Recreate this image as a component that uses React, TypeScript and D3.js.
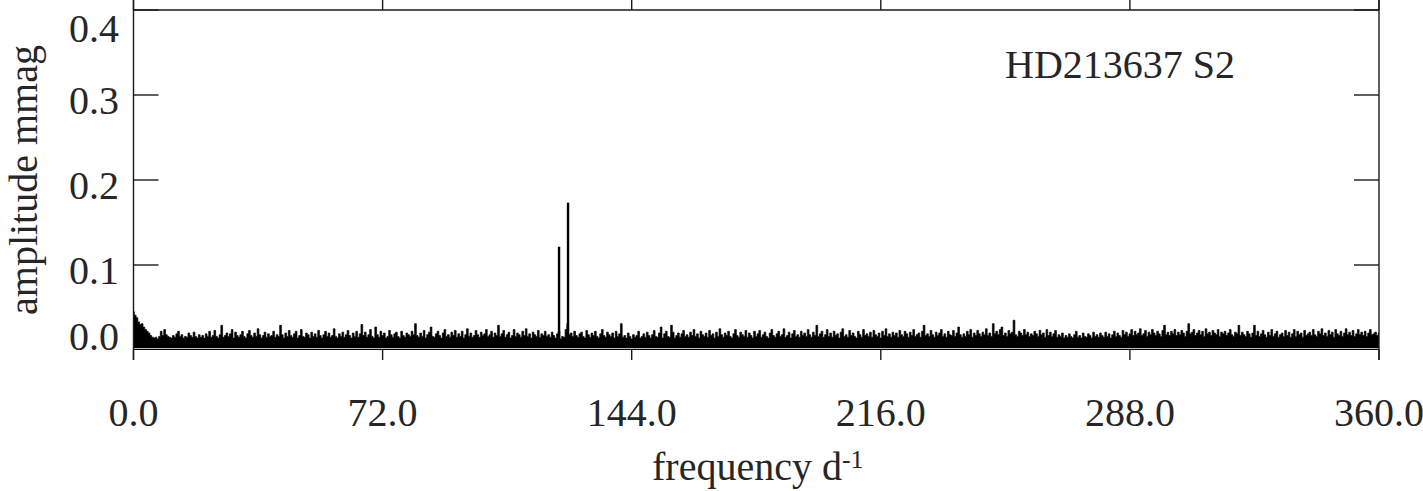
import React from "react";
import * as d3 from "d3";

// ---- data ----
const xTicks = [0, 72, 144, 216, 288, 360];
const xTickLabels = ["0.0", "72.0", "144.0", "216.0", "288.0", "360.0"];
const yTicks = [0, 0.1, 0.2, 0.3, 0.4];
const yTickLabels = ["0.0", "0.1", "0.2", "0.3", "0.4"];
const starLabel = "HD213637 S2";

// noise envelope of the amplitude spectrum, in micro-mag, 0 .. 360 d^-1 (0.5 d^-1 step)
const noiseMicroMag = [
  45,41,38,33,30,31,27,24,22,20,17,15,14,15,13,16,22,17,24,18,16,15,14,17,15,19,22,16,18,14,16,15,20,17,15,21,16,14,18,15,
  17,14,19,16,22,15,17,23,16,14,18,29,15,17,20,16,19,24,14,21,17,15,18,22,16,14,19,23,17,15,20,16,25,18,14,17,21,15,19,16,
  17,22,15,18,16,29,18,14,20,16,23,17,15,19,22,14,17,24,16,15,20,18,14,21,16,19,15,23,17,14,18,22,16,20,15,17,25,16,14,19,
  16,21,15,18,23,17,14,20,16,22,15,19,30,17,21,15,18,24,16,14,27,18,15,22,17,20,14,16,23,18,15,19,21,16,14,22,17,15,20,18,
  16,22,18,31,17,15,20,16,23,14,18,21,27,16,15,19,22,17,14,20,24,16,18,15,21,17,23,15,19,16,22,14,18,25,16,20,15,17,23,18,
  15,21,17,19,24,16,18,22,15,20,17,29,16,19,23,15,18,21,14,17,24,16,20,18,15,22,17,25,16,19,14,21,18,16,23,15,19,17,22,16,
  18,15,21,17,14,19,22,13,16,15,24,31,18,20,16,22,17,15,19,21,16,14,23,18,15,20,17,22,16,14,19,24,17,15,21,18,16,20,14,22,
  16,19,31,15,17,14,20,16,13,18,15,17,22,14,16,19,15,21,17,14,18,23,16,15,20,27,14,19,22,16,15,29,21,14,17,20,15,19,23,16,
  18,15,21,17,24,16,19,14,22,18,16,20,15,23,17,19,14,21,16,25,18,15,20,17,22,16,14,19,24,17,15,21,18,16,23,15,20,17,14,22,
  16,19,23,15,18,21,16,14,20,24,17,15,19,22,16,18,25,15,17,21,14,19,23,16,18,15,22,17,20,16,24,18,15,21,17,29,16,19,22,15,
  18,24,16,20,15,22,17,19,14,21,25,16,18,15,23,17,20,16,14,22,18,15,24,17,19,16,21,15,23,18,16,20,14,22,17,25,16,19,15,21,
  17,20,15,23,18,16,22,19,15,21,17,24,16,18,20,15,22,29,17,19,16,23,18,15,21,17,20,24,16,19,15,22,18,17,23,16,20,27,18,15,
  19,16,22,18,24,15,20,17,23,19,16,21,18,25,17,20,16,31,19,22,18,24,27,17,20,16,23,19,21,35,18,16,22,20,17,24,18,21,16,19,
  17,22,19,16,23,18,20,15,24,17,21,16,19,23,15,18,16,20,14,17,15,19,16,14,18,22,15,17,14,20,16,15,19,17,14,21,16,18,15,20,
  17,15,21,16,19,14,18,22,16,20,17,15,23,18,21,16,19,24,17,22,18,20,25,17,19,23,16,21,18,24,20,17,22,19,16,23,29,18,21,17,
  22,19,24,17,21,18,23,20,16,22,31,19,21,24,17,20,23,18,22,16,25,19,21,17,23,20,18,24,16,21,19,22,17,20,24,18,16,21,19,29,
  17,21,18,16,22,19,15,20,29,17,22,16,19,23,18,15,21,17,24,16,19,22,15,18,20,16,23,17,21,15,19,24,16,22,18,20,15,23,17,19,
  21,17,24,18,16,22,19,25,17,20,16,23,18,21,15,24,19,17,22,16,20,25,18,21,17,23,16,19,24,18,21,17,22,16,20,24,18,19,21,17,20,
];

// signal peaks (frequency d^-1, amplitude mmag)
const peakFreq = [123.0, 125.6];
const peakAmp = [0.1215, 0.1733];

const FREQ_MIN = 0;
const FREQ_MAX = 360;
const AMP_MAX = 0.4;

export default function App() {
  const W = 1423;
  const H = 491;
  const left = 133.5;
  const right = 1379;
  const top = 10;
  const bottom = 350;

  const x = d3.scaleLinear().domain([FREQ_MIN, FREQ_MAX]).range([left, right]);
  const y = d3.scaleLinear().domain([0, AMP_MAX]).range([bottom, top]);

  const n = noiseMicroMag.length;
  const freqOf = (i: number) => FREQ_MIN + (i * (FREQ_MAX - FREQ_MIN)) / (n - 1);

  const area = d3
    .area<number>()
    .curve(d3.curveStep)
    .x((_, i) => x(freqOf(i)))
    .y0(y(0.0022))
    .y1((d) => y(d / 1000));
  const line = d3
    .line<number>()
    .curve(d3.curveStep)
    .x((_, i) => x(freqOf(i)))
    .y((d) => y(d / 1000));

  const axisColor = "#1a1a1a";
  const textColor = "#262626";
  const font = "'Liberation Serif', 'Times New Roman', serif";

  return (
    <svg
      width={W}
      height={H}
      style={{ position: "absolute", left: 0, top: 0, background: "#fff" }}
      fontFamily={font}
    >
      {/* spectrum */}
      <path d={area(noiseMicroMag) || ""} fill="#000" />
      <path d={line(noiseMicroMag) || ""} fill="none" stroke="#000" strokeWidth={0.7} />
      <line x1={left} x2={right} y1={y(0) - 0.5} y2={y(0) - 0.5} stroke="#000" strokeWidth={1.2} />
      {peakFreq.map((f, i) => (
        <line
          key={"p" + i}
          x1={x(f)}
          x2={x(f)}
          y1={y(0.004)}
          y2={y(peakAmp[i])}
          stroke="#000"
          strokeWidth={2.4}
        />
      ))}

      {/* frame */}
      <line x1={left} x2={right} y1={top} y2={top} stroke={axisColor} strokeWidth={1.4} />
      <line x1={left} x2={left} y1={0} y2={bottom + 10} stroke={axisColor} strokeWidth={1.4} />
      <line x1={right} x2={right} y1={0} y2={bottom + 10} stroke={axisColor} strokeWidth={1.4} />

      {/* x ticks top & bottom (outward) */}
      {xTicks.map((t, i) => (
        <g key={"xt" + i}>
          <line x1={x(t)} x2={x(t)} y1={top} y2={0} stroke={axisColor} strokeWidth={1.4} />
          <line x1={x(t)} x2={x(t)} y1={bottom} y2={bottom + 10} stroke={axisColor} strokeWidth={1.4} />
          <text x={x(t)} y={426} textAnchor="middle" fontSize={40} fill={textColor}>
            {xTickLabels[i]}
          </text>
        </g>
      ))}

      {/* y ticks left & right (inward) */}
      {yTicks.map((t, i) => (
        <g key={"yt" + i}>
          {t > 0 && (
            <>
              <line x1={left} x2={left + 25} y1={y(t)} y2={y(t)} stroke={axisColor} strokeWidth={1.4} />
              <line x1={right - 25} x2={right} y1={y(t)} y2={y(t)} stroke={axisColor} strokeWidth={1.4} />
            </>
          )}
          <text
            x={119}
            y={Math.min(Math.max(y(t) + 18.5, top + 32), bottom)}
            textAnchor="end"
            fontSize={40}
            fill={textColor}
          >
            {yTickLabels[i]}
          </text>
        </g>
      ))}

      {/* axis titles */}
      <text
        transform={`translate(37, ${(top + bottom) / 2}) rotate(-90)`}
        textAnchor="middle"
        fontSize={40}
        fill={textColor}
      >
        amplitude mmag
      </text>
      <text x={652} y={480} fontSize={40} fill={textColor}>
        frequency d
        <tspan fontSize={26} dy={-12}>
          -1
        </tspan>
      </text>

      {/* star label */}
      <text x={1005} y={78} fontSize={40} fill={textColor}>
        {starLabel}
      </text>
    </svg>
  );
}
